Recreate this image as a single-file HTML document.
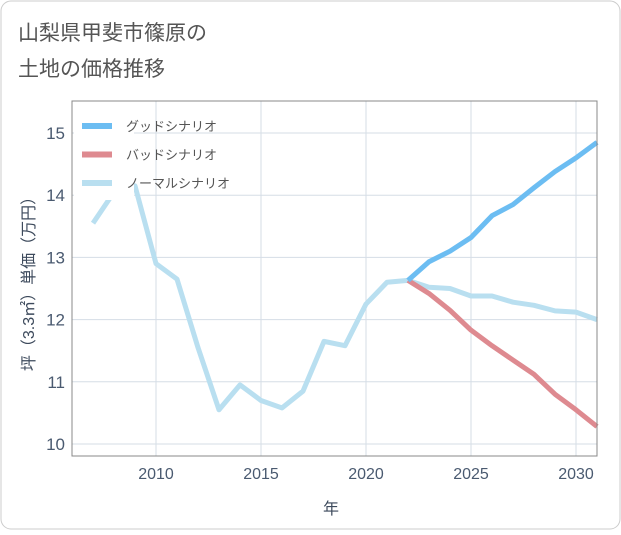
<!DOCTYPE html>
<html><head><meta charset="utf-8"><style>
body{margin:0;background:#fff;}
svg text{font-family:"Liberation Sans","Noto Sans CJK JP",sans-serif;}
</style></head><body>
<svg id="c" width="621" height="530">
<rect x="1" y="1" width="619" height="528" rx="10" fill="#fff" stroke="#ccc"/>
<text x="18" y="40" font-size="21" fill="#555">山梨県甲斐市篠原の</text>
<text x="18" y="76" font-size="21" fill="#555">土地の価格推移</text>
<g id="grid"></g><g id="lines"></g><g id="legend"></g>
<rect x="72" y="101" width="525" height="355" fill="none" stroke="#888"/>
<text x="331" y="514" font-size="16" fill="#3d4a5c" text-anchor="middle">年</text>
<text transform="translate(34,280) rotate(-90)" font-size="16" fill="#3d4a5c" text-anchor="middle">坪（3.3㎡）単価（万円）</text>
</svg>
<script>
const years=[2007,2008,2009,2010,2011,2012,2013,2014,2015,2016,2017,2018,2019,2020,2021,2022,2023,2024,2025,2026,2027,2028,2029,2030,2031];
const normal=[13.55,14.05,14.15,12.9,12.65,11.55,10.55,10.95,10.7,10.58,10.85,11.65,11.58,12.25,12.6,12.63,12.52,12.5,12.38,12.38,12.28,12.23,12.14,12.12,12.0];
const goodYears=[2022,2023,2024,2025,2026,2027,2028,2029,2030,2031];
const good=[12.63,12.93,13.1,13.32,13.67,13.85,14.12,14.38,14.6,14.85];
const bad=[12.63,12.42,12.15,11.83,11.58,11.35,11.12,10.8,10.55,10.28];
const xTicks=[2010,2015,2020,2025,2030];
const yTicks=[10,11,12,13,14,15];
const X=y=>156+(y-2010)*21, Y=v=>444-(v-10)*62.2;
const NS='http://www.w3.org/2000/svg';
function mk(p,t,a){const e=document.createElementNS(NS,t);for(const k in a)e.setAttribute(k,a[k]);p.appendChild(e);return e;}
const g=document.getElementById('grid');
xTicks.forEach(t=>{const l=mk(g,'line',{x1:X(t),x2:X(t),y1:101,y2:456,stroke:'#d5dde6'});


const tx=mk(g,'text',{x:X(t),y:479,'font-size':16,fill:'#4a5a70','text-anchor':'middle'});tx.textContent=t;

});
yTicks.forEach(t=>{const l=mk(g,'line',{x1:72,x2:597,y1:Y(t),y2:Y(t),stroke:'#d5dde6'});


const tx=mk(g,'text',{x:65,y:Y(t)+6,'font-size':17,fill:'#4a5a70','text-anchor':'end'});tx.textContent=t;

});
const L=document.getElementById('lines');
function line(xs,vs,c,n){const p=mk(L,'polyline',{points:xs.map((x,i)=>X(x)+','+Y(vs[i])).join(' '),fill:'none',stroke:c,'stroke-width':5,'stroke-linejoin':'round'});

}
line(years,normal,'#b9dff0','normal-line');
line(goodYears,bad,'#de8a90','bad-line');
line(goodYears,good,'#6cbdf2','good-line');
const lg=document.getElementById('legend');
mk(lg,'rect',{x:74,y:104,width:60,height:96,fill:'#fff'});
[['グッドシナリオ','#6cbdf2'],['バッドシナリオ','#de8a90'],['ノーマルシナリオ','#b9dff0']].forEach((d,i)=>{
const y=126+i*28.5;
const l=mk(lg,'line',{x1:82,x2:112,y1:y,y2:y,stroke:d[1],'stroke-width':6});


const t=mk(lg,'text',{x:126,y:y+5,'font-size':13,fill:'#555'});t.textContent=d[0];

});
</script>
</body></html>
